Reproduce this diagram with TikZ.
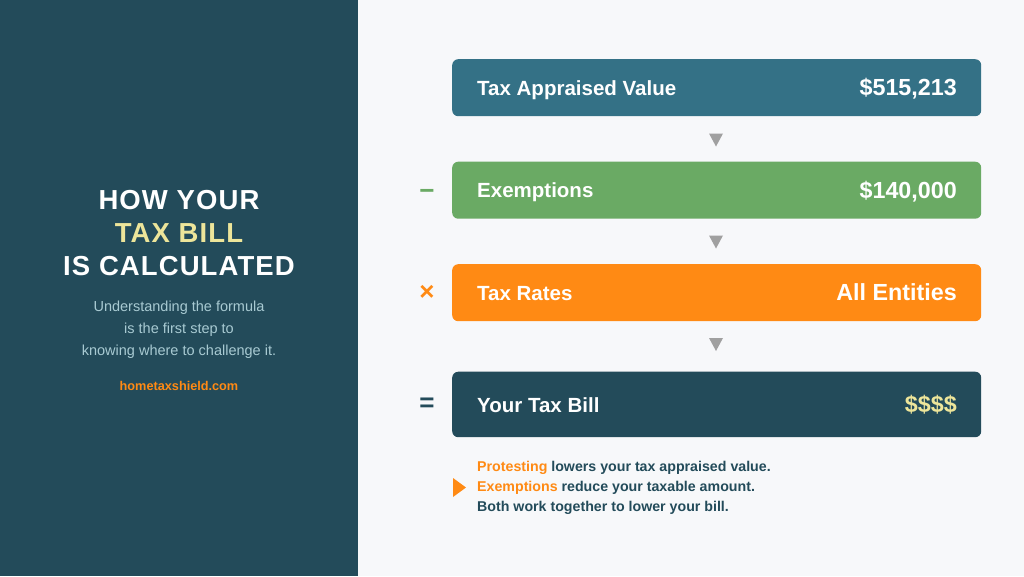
\documentclass[tikz,border=0pt]{standalone}
\usepackage{fontspec}
\setmainfont{Liberation Sans}
\definecolor{panel}{HTML}{234B5A}
\definecolor{bg}{HTML}{F7F8FA}
\definecolor{appr}{HTML}{347186}
\definecolor{exgreen}{HTML}{6AAA64}
\definecolor{rateor}{HTML}{FF8A14}
\definecolor{gold}{HTML}{EDE59A}
\definecolor{subt}{HTML}{A8CAD2}
\definecolor{arrowgray}{HTML}{A0A0A0}
\begin{document}
\begin{tikzpicture}[x=1pt,y=-1pt,
  box/.style={rounded corners=6pt, minimum width=529pt, inner sep=0pt, anchor=north west, draw=none},
  lab/.style={anchor=base west, inner sep=0pt, text=white, font=\bfseries\fontsize{20.5}{24}\selectfont},
  val/.style={anchor=base east, inner sep=0pt, text=white, font=\bfseries\fontsize{23.3}{26}\selectfont},
  op/.style={anchor=center, inner sep=0pt, font=\bfseries\fontsize{26}{30}\selectfont},
  title/.style={anchor=base, inner sep=0pt, font=\bfseries\fontsize{27.5}{30}\selectfont\addfontfeature{LetterSpace=4}},
  sub/.style={anchor=base, inner sep=0pt, text=subt, font=\fontsize{14.5}{18}\selectfont},
  note/.style={anchor=base west, inner sep=0pt, text=panel, font=\bfseries\fontsize{14.2}{18}\selectfont},
  tri/.style={fill=arrowgray}]
\useasboundingbox (0,0) rectangle (1024,576);
\fill[bg] (0,0) rectangle (1024,576);
\fill[panel] (0,0) rectangle (358,576);
% left panel
\node[title, text=white] (t1) at (179,209) {HOW YOUR};
\node[title, text=gold] (t2) at (179,242.5) {TAX BILL};
\node[title, text=white] (t3) at (179,275.5) {IS CALCULATED};
\node[sub] (s1) at (179,311.5) {Understanding the formula};
\node[sub] (s2) at (179,333.5) {is the first step to};
\node[sub] (s3) at (179,355.5) {knowing where to challenge it.};
\node[anchor=base, inner sep=0pt, text=rateor, font=\bfseries\fontsize{12.7}{15}\selectfont] (url) at (179,390) {hometaxshield.com};
% boxes
\node[box, fill=appr, minimum height=57pt] (b1) at (452,59) {};
\node[box, fill=exgreen, minimum height=57pt] (b2) at (452,161.5) {};
\node[box, fill=rateor, minimum height=57pt] (b3) at (452,264) {};
\node[box, fill=panel, minimum height=65.5pt] (b4) at (452,371.5) {};
\node[lab] (l1) at (477,95) {Tax Appraised Value};
\node[val] (v1) at (957,95.5) {\$515,213};
\node[lab] (l2) at (477,197.5) {Exemptions};
\node[val] (v2) at (957,198) {\$140,000};
\node[lab] (l3) at (477,300) {Tax Rates};
\node[val] (v3) at (957,300.5) {All Entities};
\node[lab] (l4) at (477,412) {Your Tax Bill};
\node[val, text=gold] (v4) at (957,412.5) {\$\$\$\$};
% operators
\node[op, text=exgreen] (o2) at (427,194.5) {−};
\node[op, text=rateor] (o3) at (427,292.5) {×};
\node[op, text=panel] (o4) at (427,405) {=};
% triangles between boxes
\fill[tri] (709,133.5) -- (723,133.5) -- (716,146.5) -- cycle;
\fill[tri] (709,235.5) -- (723,235.5) -- (716,248.5) -- cycle;
\fill[tri] (709,338) -- (723,338) -- (716,351) -- cycle;
% note
\fill[rateor] (453,478) -- (466,487.5) -- (453,497) -- cycle;
\node[note] (n1) at (477,471.5) {\textcolor{rateor}{Protesting} lowers your tax appraised value.};
\node[note] (n2) at (477,491.5) {\textcolor{rateor}{Exemptions} reduce your taxable amount.};
\node[note] (n3) at (477,511.5) {Both work together to lower your bill.};
\end{tikzpicture}
\end{document}
